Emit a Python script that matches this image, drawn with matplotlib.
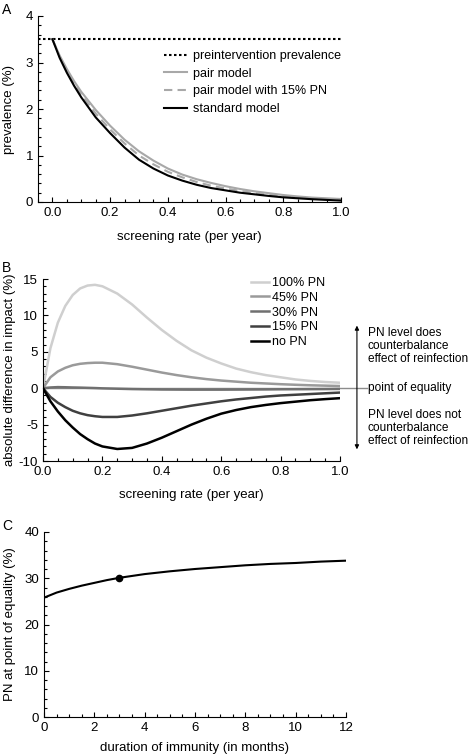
#!/usr/bin/env python3
import matplotlib
matplotlib.use('Agg')
import matplotlib.pyplot as plt
from matplotlib.ticker import MultipleLocator

plt.rcParams['font.family'] = ['Liberation Sans', 'DejaVu Sans']
plt.rcParams['font.size'] = 9
plt.rcParams['axes.unicode_minus'] = False

# panel A: prevalence vs screening rate
rate_a = [0, 0.025, 0.05, 0.075, 0.1, 0.15, 0.2, 0.25, 0.3, 0.35, 0.4, 0.45, 0.5,
          0.55, 0.6, 0.65, 0.7, 0.75, 0.8, 0.85, 0.9, 0.95, 1.0]
standard = [3.5, 3.1, 2.78, 2.5, 2.25, 1.82, 1.48, 1.17, 0.91, 0.72, 0.57, 0.46, 0.37,
            0.30, 0.25, 0.20, 0.165, 0.13, 0.10, 0.08, 0.06, 0.045, 0.03]
pair = [3.5, 3.15, 2.86, 2.6, 2.37, 1.98, 1.64, 1.34, 1.09, 0.89, 0.72, 0.59, 0.49,
        0.41, 0.34, 0.28, 0.23, 0.19, 0.15, 0.12, 0.095, 0.08, 0.065]
pair_pn15 = [3.5, 3.13, 2.82, 2.55, 2.31, 1.9, 1.56, 1.26, 1.0, 0.81, 0.65, 0.53, 0.43,
             0.35, 0.29, 0.24, 0.19, 0.155, 0.125, 0.10, 0.08, 0.06, 0.05]
preintervention = 3.5

# panel B: absolute difference in impact
rate_b = [0, 0.025, 0.05, 0.075, 0.1, 0.125, 0.15, 0.175, 0.2, 0.25, 0.3, 0.35, 0.4,
          0.45, 0.5, 0.55, 0.6, 0.65, 0.7, 0.75, 0.8, 0.85, 0.9, 0.95, 1.0]
diff_pn100 = [0, 5.5, 9.0, 11.3, 12.8, 13.7, 14.1, 14.2, 14.0, 13.0, 11.5, 9.7, 8.0,
              6.5, 5.2, 4.2, 3.4, 2.7, 2.2, 1.8, 1.5, 1.2, 1.0, 0.85, 0.75]
diff_pn45 = [0, 1.5, 2.3, 2.8, 3.15, 3.35, 3.45, 3.5, 3.5, 3.3, 2.95, 2.55, 2.15,
             1.8, 1.5, 1.25, 1.05, 0.9, 0.75, 0.65, 0.55, 0.47, 0.4, 0.35, 0.3]
diff_pn30 = [0, 0.1, 0.15, 0.13, 0.1, 0.08, 0.05, 0.02, -0.02, -0.07, -0.12, -0.15, -0.18,
             -0.19, -0.2, -0.2, -0.2, -0.19, -0.18, -0.17, -0.15, -0.14, -0.13, -0.12, -0.1]
diff_pn15 = [0, -1.2, -2.0, -2.6, -3.1, -3.45, -3.7, -3.85, -3.95, -3.95, -3.75, -3.45, -3.1,
             -2.75, -2.4, -2.1, -1.8, -1.55, -1.35, -1.15, -1.0, -0.9, -0.8, -0.7, -0.6]
diff_nopn = [0, -1.8, -3.2, -4.4, -5.4, -6.3, -7.0, -7.6, -8.0, -8.35, -8.2, -7.6, -6.8,
             -5.9, -5.0, -4.2, -3.5, -3.0, -2.6, -2.3, -2.05, -1.85, -1.65, -1.5, -1.37]

# panel C: PN at point of equality vs duration of immunity
months = [0, 0.5, 1, 1.5, 2, 2.5, 3, 4, 5, 6, 7, 8, 9, 10, 11, 12]
pn_equality = [25.8, 26.9, 27.7, 28.4, 29.0, 29.6, 30.1, 30.9, 31.5, 32.0, 32.4, 32.8,
               33.1, 33.3, 33.6, 33.8]
marked_month = 3
marked_pn = 30.1

W, H = 472, 756
fig = plt.figure(figsize=(W / 100, H / 100), dpi=100)


def style(ax):
    ax.spines['top'].set_visible(False)
    ax.spines['right'].set_visible(False)
    ax.spines['left'].set_linewidth(0.8)
    ax.spines['bottom'].set_linewidth(0.8)
    ax.tick_params(which='both', direction='in', width=0.8, labelsize=9.5)
    ax.tick_params(which='major', length=3.5)
    ax.tick_params(which='minor', length=2)


# --- A ---
ax1 = fig.add_axes([38 / W, 1 - 202 / H, 303 / W, 186 / H])
ax1.axhline(preintervention, color='black', lw=1.5, ls=(0, (1.2, 1.2)),
            label='preintervention prevalence')
ax1.plot(rate_a, pair, color='#a8a8a8', lw=1.5, label='pair model')
ax1.plot(rate_a, pair_pn15, color='#a8a8a8', lw=1.5, ls=(0, (4, 2.5)),
         label='pair model with 15% PN')
ax1.plot(rate_a, standard, color='black', lw=1.5, label='standard model')
ax1.set_xlim(-0.05, 1.0)
ax1.set_ylim(0, 4)
ax1.xaxis.set_minor_locator(MultipleLocator(0.05))
ax1.yaxis.set_major_locator(MultipleLocator(1))
ax1.yaxis.set_minor_locator(MultipleLocator(0.2))
ax1.set_xticks([0, 0.2, 0.4, 0.6, 0.8, 1.0])
ax1.set_xticklabels(['0.0', '0.2', '0.4', '0.6', '0.8', '1.0'])
style(ax1)
ax1.set_xlabel('screening rate (per year)', fontsize=9.5, labelpad=9)
ax1.set_ylabel('prevalence (%)', fontsize=9.5, labelpad=8)
ax1.legend(loc='upper left', bbox_to_anchor=(164 / W, 1 - 50 / H),
           bbox_transform=fig.transFigure, frameon=False, borderpad=0,
           borderaxespad=0, handlelength=1.8, handletextpad=0.5,
           labelspacing=0.45, fontsize=9)
fig.text(2 / W, 1 - 10 / H, 'A', fontsize=10, va='center', ha='left')

# --- B ---
ax2 = fig.add_axes([43 / W, 1 - 461 / H, 297 / W, 182 / H])
ax2.plot([0, 1.09], [0, 0], color='#8c8c8c', lw=1, clip_on=False, zorder=1)
ax2.plot(rate_b, diff_pn100, color='#cfcfcf', lw=1.8, label='100% PN')
ax2.plot(rate_b, diff_pn45, color='#9a9a9a', lw=1.8, label='45% PN')
ax2.plot(rate_b, diff_pn30, color='#707070', lw=1.8, label='30% PN')
ax2.plot(rate_b, diff_pn15, color='#404040', lw=1.8, label='15% PN')
ax2.plot(rate_b, diff_nopn, color='black', lw=1.8, label='no PN')
ax2.set_xlim(0, 1.0)
ax2.set_ylim(-10, 15)
ax2.set_xticks([0, 0.2, 0.4, 0.6, 0.8, 1.0])
ax2.set_xticklabels(['0.0', '0.2', '0.4', '0.6', '0.8', '1.0'])
ax2.xaxis.set_minor_locator(MultipleLocator(0.05))
ax2.yaxis.set_major_locator(MultipleLocator(5))
ax2.yaxis.set_minor_locator(MultipleLocator(1))
style(ax2)
ax2.set_xlabel('screening rate (per year)', fontsize=9.5, labelpad=8)
ax2.set_ylabel('absolute difference in impact (%)', fontsize=9.5, labelpad=2)
ax2.legend(loc='upper left', bbox_to_anchor=(251 / W, 1 - 277 / H),
           bbox_transform=fig.transFigure, frameon=False, borderpad=0,
           borderaxespad=0, handlelength=1.4, handletextpad=0.3,
           labelspacing=0.22, fontsize=9)
ax2.annotate('', xy=(1.057, 8.6), xytext=(1.057, -8.4), xycoords='data',
             annotation_clip=False,
             arrowprops=dict(arrowstyle='<|-|>', color='black', lw=0.8,
                             mutation_scale=6, shrinkA=0, shrinkB=0))
ax2.text(1.094, 5.8, 'PN level does\ncounterbalance\neffect of reinfection',
         fontsize=8.6, va='center', ha='left', linespacing=1.15, clip_on=False)
ax2.text(1.094, 0, 'point of equality', fontsize=8.6, va='center', ha='left',
         clip_on=False)
ax2.text(1.094, -5.45, 'PN level does not\ncounterbalance\neffect of reinfection',
         fontsize=8.6, va='center', ha='left', linespacing=1.15, clip_on=False)
fig.text(2 / W, 1 - 268 / H, 'B', fontsize=10, va='center', ha='left')

# --- C ---
ax3 = fig.add_axes([44 / W, 1 - 717 / H, 302 / W, 185 / H])
ax3.plot(months, pn_equality, color='black', lw=1.5)
ax3.plot([marked_month], [marked_pn], 'o', color='black', ms=4.5)
ax3.set_xlim(0, 12)
ax3.set_ylim(0, 40)
ax3.xaxis.set_major_locator(MultipleLocator(2))
ax3.xaxis.set_minor_locator(MultipleLocator(0.5))
ax3.yaxis.set_major_locator(MultipleLocator(10))
ax3.yaxis.set_minor_locator(MultipleLocator(2))
style(ax3)
ax3.set_xlabel('duration of immunity (in months)', fontsize=9.5, labelpad=6)
ax3.set_ylabel('PN at point of equality (%)', fontsize=9.5, labelpad=6)
fig.text(2 / W, 1 - 526 / H, 'C', fontsize=10, va='center', ha='left')

fig.savefig('out.png', dpi=100)
